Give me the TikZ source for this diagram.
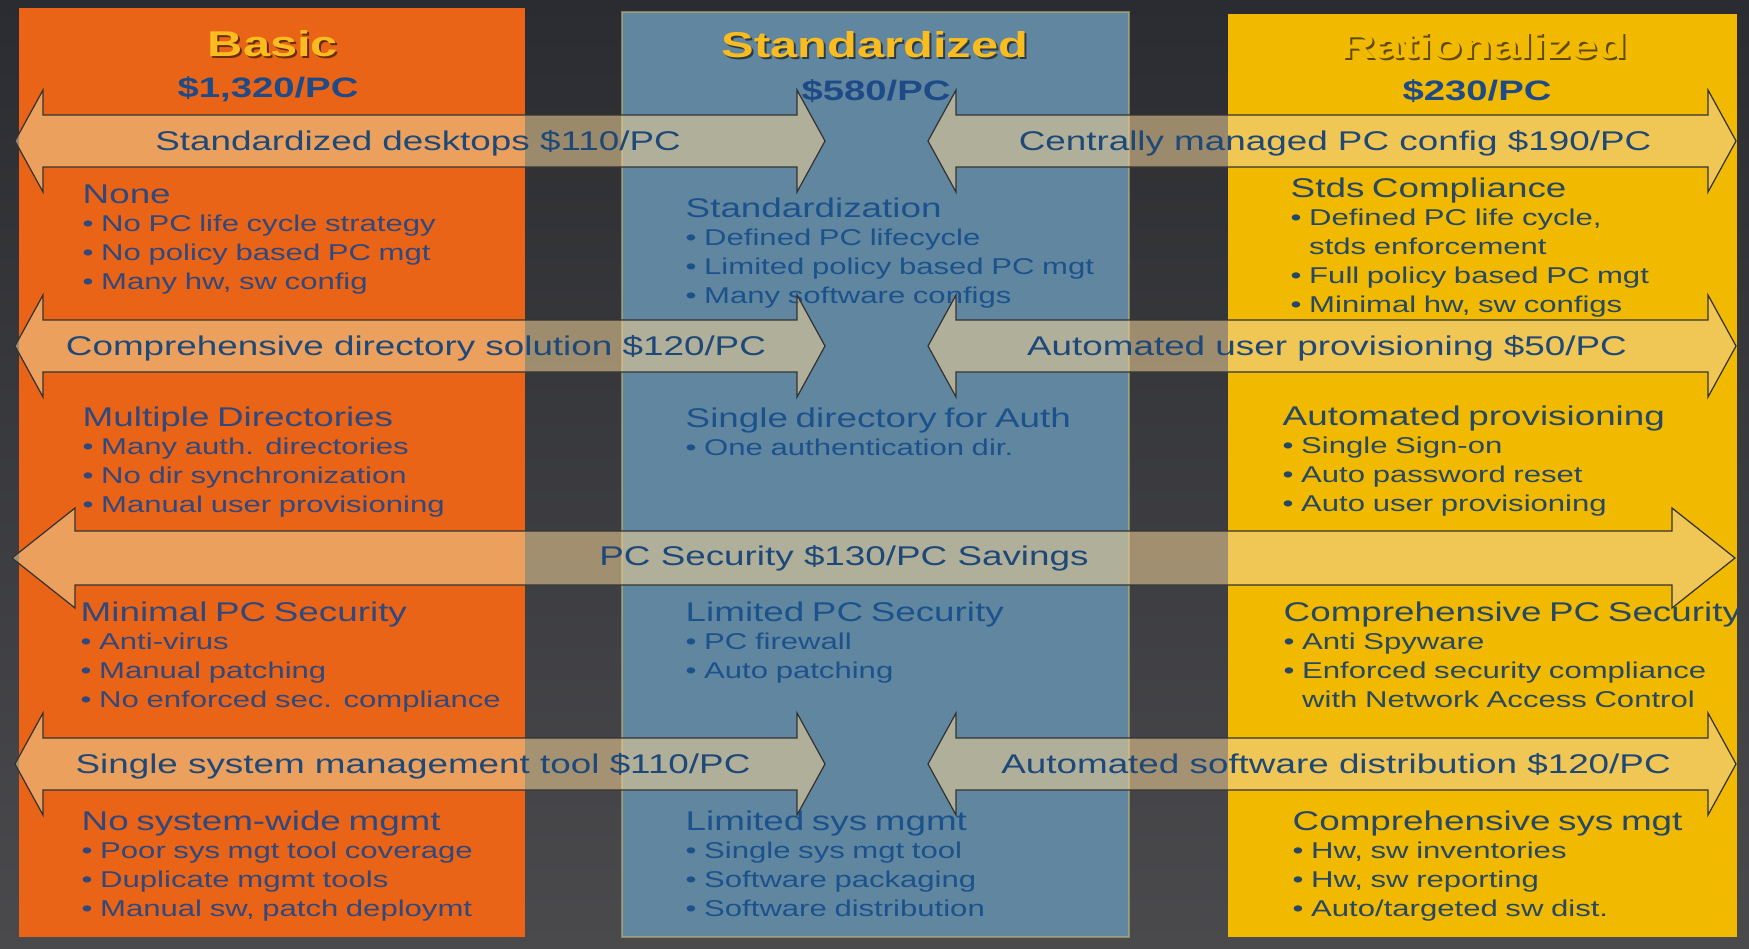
\documentclass[tikz,border=0pt]{standalone}
\usepackage{fontspec}
\setmainfont[FakeStretch=1.36]{Liberation Sans}

\definecolor{bgtop}{RGB}{43,44,49}
\definecolor{bgbot}{RGB}{74,74,77}
\definecolor{colorange}{RGB}{233,100,22}
\definecolor{colblue}{RGB}{96,134,160}
\definecolor{colyellow}{RGB}{241,186,0}
\definecolor{glow}{RGB}{190,178,118}
\definecolor{titlegold}{RGB}{250,188,30}
\definecolor{priceblue}{RGB}{30,75,135}
\definecolor{txtO}{RGB}{48,72,125}
\definecolor{txtB}{RGB}{28,82,140}
\definecolor{txtY}{RGB}{38,72,100}
\definecolor{lblblue}{RGB}{30,72,120}
\definecolor{bandfill}{RGB}{240,208,150}

\newlength{\bulw}
\newcommand{\blkhead}[1]{{\fontsize{7.7}{8.2}\selectfont #1}\par}
\newcommand{\blkitem}[1]{\textbullet\ #1\par}
\newcommand{\blkcont}[1]{\settowidth{\bulw}{\textbullet\ }\hspace*{\bulw}#1\par}

\begin{document}
\begin{tikzpicture}[x=0.01cm, y=-0.01cm,
% Define custom styles
    band/.style={fill=bandfill, fill opacity=0.56, draw=black!80, line width=0.35pt},
    ttl/.style={anchor=base, inner sep=0pt, font=\fontsize{10.2}{12}\selectfont\bfseries},
    price/.style={anchor=base, inner sep=0pt, text=priceblue, font=\fontsize{8}{10}\selectfont\bfseries},
    blk/.style={anchor=base west, inner sep=0pt, text width=140pt, align=left, font=\fontsize{6.5}{8.2}\selectfont},
    lbl/.style={anchor=base, inner sep=0pt, text=lblblue, font=\fontsize{7.7}{9}\selectfont}
]
\useasboundingbox (0,0) rectangle (1749,948);
\shade[top color=bgtop, bottom color=bgbot] (0,0) rectangle (1749,948);

% columns
\fill[colorange] (19,8) rectangle (525,937);
\fill[colblue] (622,12) rectangle (1129,937);
\draw[glow, line width=0.8pt, opacity=0.6] (622,12) rectangle (1129,937);
\fill[colyellow] (1228,14) rectangle (1737,937);

% titles
\node[ttl, text=black, opacity=0.55] (basicS) at (275,58) {Basic};
\node[ttl, text=titlegold] (basic) at (273,56) {Basic};
\node[ttl, text=black, opacity=0.55] (stdS) at (877,59) {Standardized};
\node[ttl, text=titlegold] (std) at (875,57) {Standardized};
\node[ttl, text=black, opacity=0.6] (ratS) at (1486,60) {Rationalized};
\node[ttl, text=colyellow] (rat) at (1484,58) {Rationalized};

\node[price] (pBasic) at (268,97) {\$1,320/PC};
\node[price] (pStd) at (876,100) {\$580/PC};
\node[price] (pRat) at (1477,100) {\$230/PC};

% basic column
\node[blk, text=txtO] (b1) at (82,203) {\blkhead{None}
    \blkitem{No PC life cycle strategy}\blkitem{No policy based PC mgt}\blkitem{Many hw, sw config}};
\node[blk, text=txtO] (b2) at (82,426) {\blkhead{Multiple Directories}
    \blkitem{Many auth. directories}\blkitem{No dir synchronization}\blkitem{Manual user provisioning}};
\node[blk, text=txtO] (b3) at (80,621) {\blkhead{Minimal PC Security}
    \blkitem{Anti-virus}\blkitem{Manual patching}\blkitem{No enforced sec. compliance}};
\node[blk, text=txtO] (b4) at (81,830) {\blkhead{No system-wide mgmt}
    \blkitem{Poor sys mgt tool coverage}\blkitem{Duplicate mgmt tools}\blkitem{Manual sw, patch deploymt}};

% standardized column
\node[blk, text=txtB] (s1) at (685,217) {\blkhead{Standardization}
    \blkitem{Defined PC lifecycle}\blkitem{Limited policy based PC mgt}\blkitem{Many software configs}};
\node[blk, text=txtB] (s2) at (685,427) {\blkhead{Single directory for Auth}
    \blkitem{One authentication dir.}};
\node[blk, text=txtB] (s3) at (685,621) {\blkhead{Limited PC Security}
    \blkitem{PC firewall}\blkitem{Auto patching}};
\node[blk, text=txtB] (s4) at (685,830) {\blkhead{Limited sys mgmt}
    \blkitem{Single sys mgt tool}\blkitem{Software packaging}\blkitem{Software distribution}};

% rationalized column
\node[blk, text=txtY] (r1) at (1290,197) {\blkhead{Stds Compliance}
    \blkitem{Defined PC life cycle,}\blkcont{stds enforcement}\blkitem{Full policy based PC mgt}\blkitem{Minimal hw, sw configs}};
\node[blk, text=txtY] (r2) at (1282,425) {\blkhead{Automated provisioning}
    \blkitem{Single Sign-on}\blkitem{Auto password reset}\blkitem{Auto user provisioning}};
\node[blk, text=txtY] (r3) at (1283,621) {\blkhead{Comprehensive PC Security}
    \blkitem{Anti Spyware}\blkitem{Enforced security compliance}\blkcont{with Network Access Control}};
\node[blk, text=txtY] (r4) at (1292,830) {\blkhead{Comprehensive sys mgt}
    \blkitem{Hw, sw inventories}\blkitem{Hw, sw reporting}\blkitem{Auto/targeted sw dist.}};

% savings arrows
\path[band] (15,141) -- ++(28,-51) -- ++(0,25) -- ++(754,0) -- ++(0,-25) -- ++(28,51)
    -- ++(-28,51) -- ++(0,-25) -- ++(-754,0) -- ++(0,25) -- cycle;
\path[band] (928,141) -- ++(28,-51) -- ++(0,25) -- ++(752,0) -- ++(0,-25) -- ++(28,51)
    -- ++(-28,51) -- ++(0,-25) -- ++(-752,0) -- ++(0,25) -- cycle;

\path[band] (15,346) -- ++(28,-51) -- ++(0,25) -- ++(754,0) -- ++(0,-25) -- ++(28,51)
    -- ++(-28,51) -- ++(0,-25) -- ++(-754,0) -- ++(0,25) -- cycle;
\path[band] (928,346) -- ++(28,-51) -- ++(0,25) -- ++(752,0) -- ++(0,-25) -- ++(28,51)
    -- ++(-28,51) -- ++(0,-25) -- ++(-752,0) -- ++(0,25) -- cycle;

\path[band] (12,558) -- ++(63,-50) -- ++(0,23) -- ++(1597,0) -- ++(0,-23) -- ++(63,50)
    -- ++(-63,50) -- ++(0,-23) -- ++(-1597,0) -- ++(0,23) -- cycle;

\path[band] (15,764) -- ++(28,-51) -- ++(0,25) -- ++(754,0) -- ++(0,-25) -- ++(28,51)
    -- ++(-28,51) -- ++(0,-25) -- ++(-754,0) -- ++(0,25) -- cycle;
\path[band] (928,764) -- ++(28,-51) -- ++(0,25) -- ++(752,0) -- ++(0,-25) -- ++(28,51)
    -- ++(-28,51) -- ++(0,-25) -- ++(-752,0) -- ++(0,25) -- cycle;

% arrow labels
\node[lbl] (l1a) at (418,150) {Standardized desktops \$110/PC};
\node[lbl] (l1b) at (1335,150) {Centrally managed PC config \$190/PC};
\node[lbl] (l2a) at (416,355) {Comprehensive directory solution \$120/PC};
\node[lbl] (l2b) at (1327,355) {Automated user provisioning \$50/PC};
\node[lbl] (l3) at (844,565) {PC Security \$130/PC Savings};
\node[lbl] (l4a) at (413,773) {Single system management tool \$110/PC};
\node[lbl] (l4b) at (1336,773) {Automated software distribution \$120/PC};

\end{tikzpicture}
\end{document}
